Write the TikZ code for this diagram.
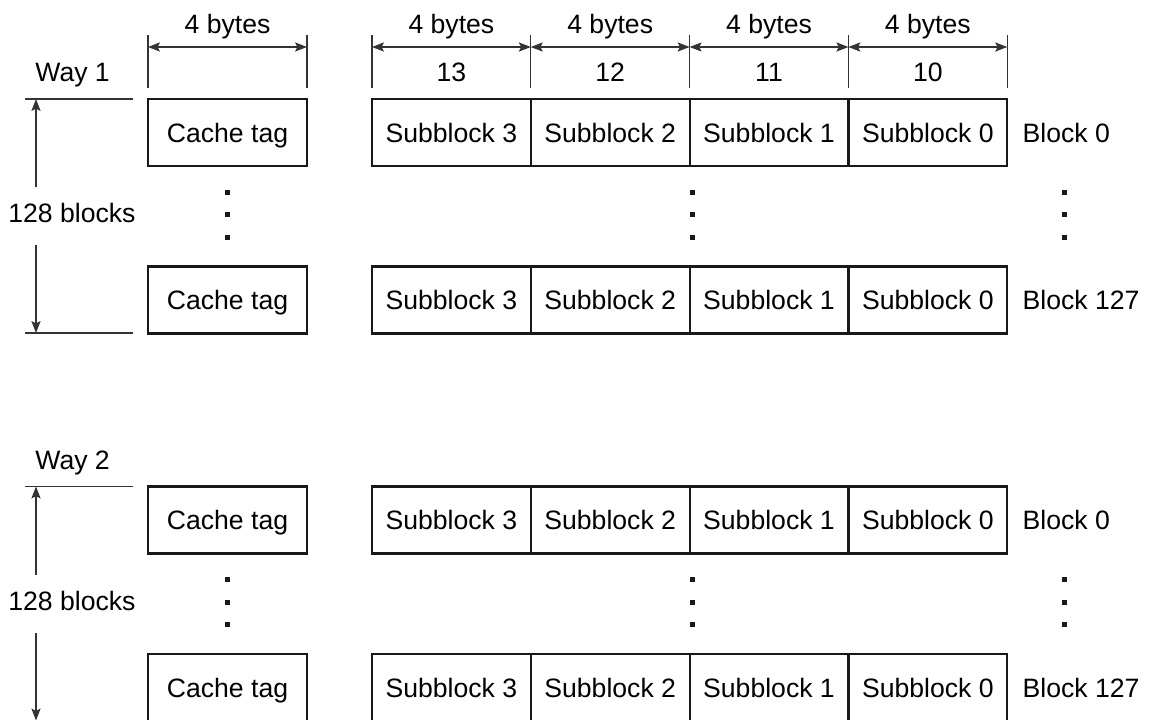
\documentclass[tikz,border=0pt]{standalone}
\usepackage{fontspec}
\setmainfont{Liberation Sans}
\usetikzlibrary{positioning}
\usetikzlibrary{arrows.meta}
\tikzset{
  cell/.style={draw=black!90,line width=1.1pt,minimum width=79.4pt,minimum height=33.5pt,
    inner sep=0pt,outer sep=0pt,text height=9.5pt,text depth=0pt},
  dim/.style={draw=black!80,line width=0.55pt},
  tip/.style={-{Stealth[length=6pt,width=4.6pt,inset=1.2pt]}},
  both/.style={{Stealth[length=6pt,width=4.6pt,inset=1.2pt]}-{Stealth[length=6pt,width=4.6pt,inset=1.2pt]}},
  sizelbl/.style={inner sep=0pt,anchor=base},
  rowlbl/.style={inner sep=0pt,text height=9.5pt,text depth=0pt},
  countlbl/.style={inner xsep=0pt,inner ysep=7.85pt,text height=9.5pt,text depth=3.4pt,anchor=base},
}

\begin{document}
\begin{tikzpicture}[x=0.5pt,y=-0.5pt,font=\fontsize{13.3pt}{16pt}\selectfont]
\useasboundingbox (0,0) rectangle (1149,719);
\clip (0,0) rectangle (1149,719);

% block rows, way 1 and way 2
\foreach \r/\yy/\b in {1a/132.5/0,1b/300/127,2a/520/0,2b/687.5/127}{
  \node[cell,minimum width=79.5pt] (tag\r) at (227.5,\yy) {Cache tag};
  \node[cell] (s3\r) at (451.4,\yy) {Subblock 3};
  \node[cell,right=0pt of s3\r] (s2\r) {Subblock 2};
  \node[cell,right=0pt of s2\r] (s1\r) {Subblock 1};
  \node[cell,right=0pt of s1\r] (s0\r) {Subblock 0};
  \node[rowlbl,right=7.5pt of s0\r] (blk\r) {Block \b};
}

% vertical dots
\foreach \yy in {132.5,520}
  \foreach \xx in {227.5,692,1064}
    \foreach \d in {59.5,82,104.5}
      \fill[black!90] (\xx-2.5,\yy+\d-2.5) rectangle ++(5,5);

% widths on top
\foreach \n in {tag1a.north west,tag1a.north east,s31a.north west,s21a.north west,s11a.north west,s01a.north west,s01a.north east}
  \draw[dim] (\n) ++(0,-11) -- ++(0,-53);
\coordinate (sz) at (0,47);
\draw[dim,both] (tag1a.north west |- sz) -- node[sizelbl,yshift=7pt] {4 bytes} (tag1a.north east |- sz);
\foreach \s/\n in {3/13,2/12,1/11,0/10}
  \draw[dim,both] (s\s1a.north west |- sz) -- node[sizelbl,yshift=7pt] {4 bytes}
    node[sizelbl,yshift=-17.3pt] {\n} (s\s1a.north east |- sz);

% way labels and block counts
\foreach \w/\yy in {1/0,2/387.5}{
  \node[sizelbl,anchor=base west] (way\w) at (35,81.7+\yy) {Way \w};
  \coordinate (top\w) at (36,99+\yy);
  \coordinate (bot\w) at (36,333+\yy);
  \draw[dim] ([xshift=-5.5pt]top\w) -- ++(108,0);
  \draw[dim] ([xshift=-5.5pt]bot\w) -- ++(108,0);
  \node[countlbl] (cnt\w) at (72,222.5+\yy) {128 blocks};
  \draw[dim,tip] (cnt\w.north -| top\w) -- (top\w);
  \draw[dim,tip] (cnt\w.south -| top\w) -- (bot\w);
}
\end{tikzpicture}
\end{document}
